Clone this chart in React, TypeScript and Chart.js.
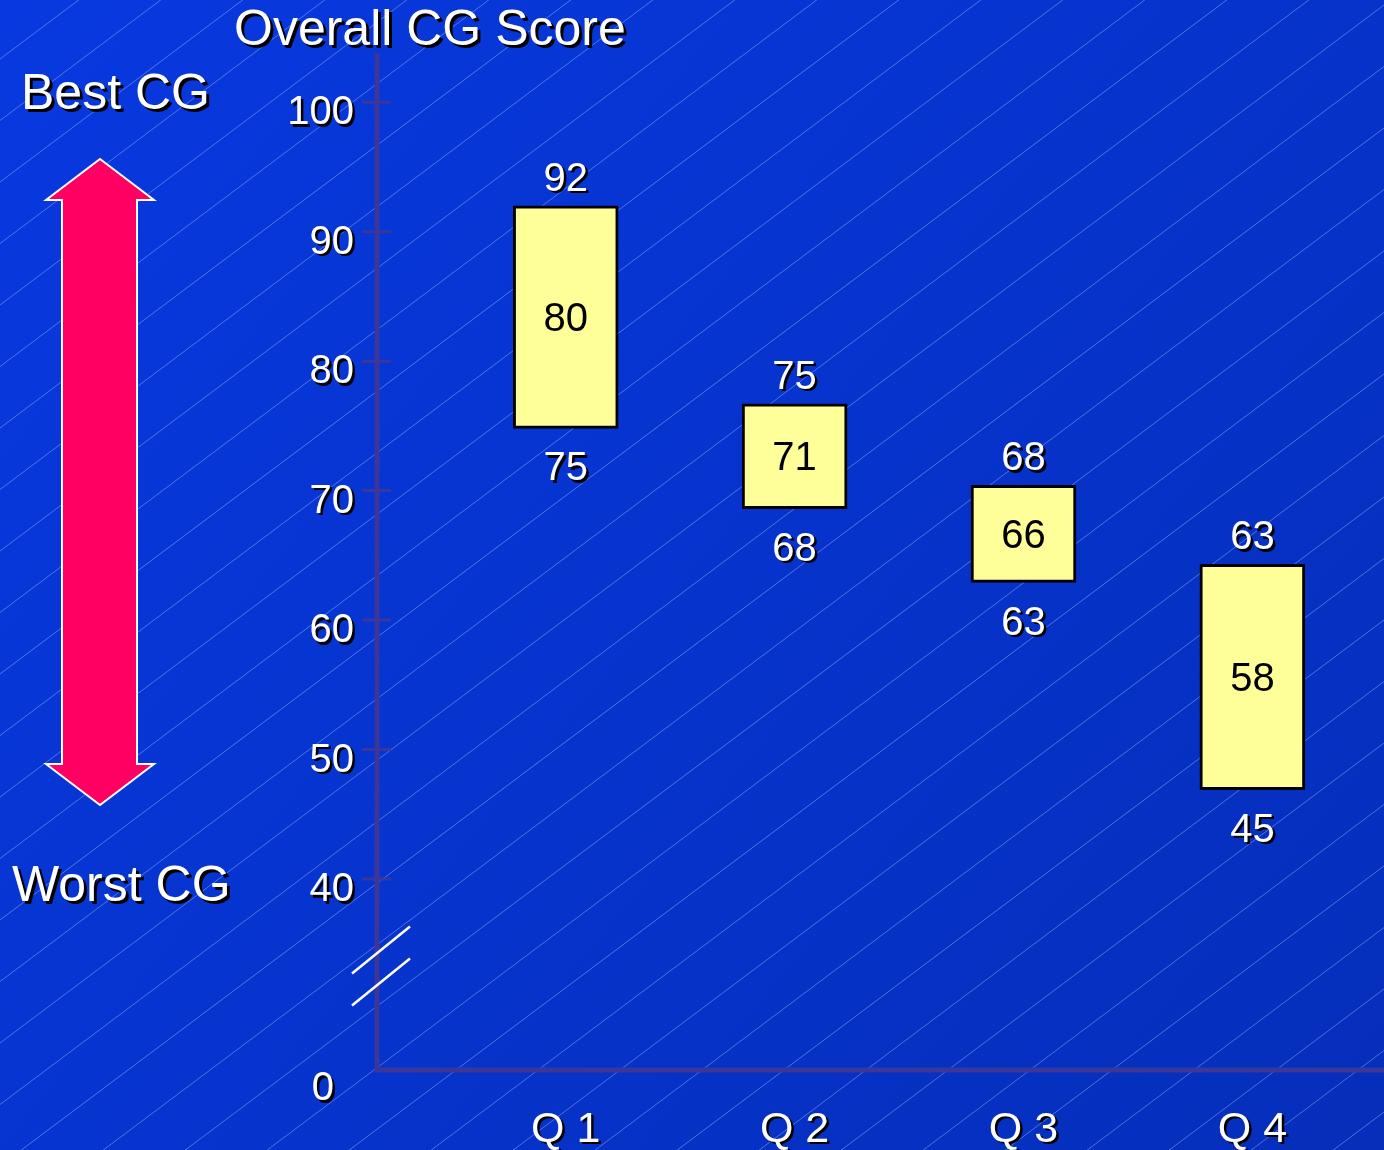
import React, { useEffect, useRef } from 'react';
import { Chart, registerables } from 'chart.js';

Chart.register(...registerables);

// ---- data ----
const categories = ['Q 1', 'Q 2', 'Q 3', 'Q 4'];
const barLow = [74.8, 68.6, 62.9, 46.9];
const barHigh = [92, 76.7, 70.4, 64.3];
const highLabels = ['92', '75', '68', '63'];
const midLabels = ['80', '71', '66', '58'];
const lowLabels = ['75', '68', '63', '45'];
const yTickValues = [40, 50, 60, 70, 80, 90, 100];
const yBreakLabel = '0';
const yBreakTick = 24.6;
const yMin = 25.25;
const yMax = 103.8;
const xMin = 0.1755;
const xMax = 4.575;
const titleText = 'Overall CG Score';
const bestText = 'Best CG';
const worstText = 'Worst CG';

const FONT = '"Liberation Sans", Arial, Helvetica, sans-serif';
const AXIS_COLOR = '#3b3699';

function setShadow(ctx: CanvasRenderingContext2D, off: number) {
  if (off > 0) {
    ctx.shadowColor = '#000000';
    ctx.shadowOffsetX = off;
    ctx.shadowOffsetY = off;
    ctx.shadowBlur = 0;
  } else {
    ctx.shadowColor = 'rgba(0,0,0,0)';
    ctx.shadowOffsetX = 0;
    ctx.shadowOffsetY = 0;
    ctx.shadowBlur = 0;
  }
}

const decorPlugin = {
  id: 'decor',
  beforeDraw(chart: any) {
    const { ctx, width, height } = chart;
    ctx.save();
    const g = ctx.createLinearGradient(0, 0, width, height);
    g.addColorStop(0, '#0839e0');
    g.addColorStop(1, '#052eba');
    ctx.fillStyle = g;
    ctx.fillRect(0, 0, width, height);
    // diagonal pinstripes
    ctx.strokeStyle = 'rgba(180,200,255,0.42)';
    ctx.lineWidth = 1;
    ctx.beginPath();
    const slope = 0.75;
    const step = 61.5;
    let c = 1842.5;
    while (c > 0) c -= step;
    for (; c < height + slope * width + step; c += step) {
      ctx.moveTo(0, c);
      ctx.lineTo(width, c - slope * width);
    }
    ctx.stroke();
    ctx.restore();
    // shadow for the scale tick labels drawn next
    setShadow(ctx, 2.5);
  },
  beforeDatasetsDraw(chart: any) {
    const { ctx, chartArea, scales } = chart;
    setShadow(ctx, 0);
    ctx.save();
    const left = chartArea.left;
    const bottom = chartArea.bottom;
    // axes
    ctx.strokeStyle = AXIS_COLOR;
    ctx.lineWidth = 5;
    ctx.beginPath();
    ctx.moveTo(left, chartArea.top);
    ctx.lineTo(left, bottom + 2.5);
    ctx.moveTo(left - 2.5, bottom);
    ctx.lineTo(chartArea.right, bottom);
    ctx.stroke();
    // tick marks
    ctx.lineWidth = 3;
    ctx.beginPath();
    yTickValues.forEach((v) => {
      const y = scales.y.getPixelForValue(v);
      ctx.moveTo(left - 15, y);
      ctx.lineTo(left + 14, y);
    });
    ctx.stroke();
    // axis break marks
    const y40 = scales.y.getPixelForValue(yTickValues[0]);
    const cy = (y40 + bottom) / 2 - 8.5;
    const cx = left + 4;
    ctx.strokeStyle = '#ffffff';
    ctx.lineWidth = 2.5;
    ctx.beginPath();
    [-16, 16].forEach((o) => {
      ctx.moveTo(cx - 29, cy + o + 23.5);
      ctx.lineTo(cx + 29, cy + o - 23.5);
    });
    ctx.stroke();
    // double-headed arrow
    ctx.beginPath();
    ctx.moveTo(100, 159);
    ctx.lineTo(154, 200);
    ctx.lineTo(137, 200);
    ctx.lineTo(137, 764);
    ctx.lineTo(154, 764);
    ctx.lineTo(100, 805);
    ctx.lineTo(46, 764);
    ctx.lineTo(62, 764);
    ctx.lineTo(62, 200);
    ctx.lineTo(46, 200);
    ctx.closePath();
    ctx.fillStyle = '#ff0062';
    ctx.fill();
    ctx.strokeStyle = '#ffffff';
    ctx.lineWidth = 2;
    ctx.stroke();
    ctx.restore();
  },
  afterDatasetsDraw(chart: any) {
    const { ctx } = chart;
    const meta = chart.getDatasetMeta(0);
    ctx.save();
    ctx.textAlign = 'center';
    ctx.textBaseline = 'middle';
    ctx.font = `40px ${FONT}`;
    meta.data.forEach((el: any, i: number) => {
      const { x, y, base } = el.getProps(['x', 'y', 'base'], true);
      const top = Math.min(y, base);
      const bot = Math.max(y, base);
      setShadow(ctx, 2.5);
      ctx.fillStyle = '#ffffff';
      ctx.fillText(highLabels[i], x, top - 26);
      ctx.fillText(lowLabels[i], x, bot + 41);
      setShadow(ctx, 0);
      ctx.fillStyle = '#000000';
      ctx.fillText(midLabels[i], x, (top + bot) / 2 + 3);
    });
    setShadow(ctx, 3);
    ctx.fillStyle = '#ffffff';
    ctx.textAlign = 'left';
    ctx.font = `50px ${FONT}`;
    ctx.fillText(titleText, 234, 31);
    ctx.fillText(bestText, 21, 95);
    ctx.fillText(worstText, 12, 887);
    setShadow(ctx, 0);
    ctx.restore();
  },
};

export default function App() {
  const canvasRef = useRef<HTMLCanvasElement | null>(null);

  useEffect(() => {
    document.body.style.margin = '0';
    const canvas = canvasRef.current;
    if (!canvas) return;
    const chart = new Chart(canvas, {
      type: 'bar',
      data: {
        datasets: [
          {
            data: categories.map((_, i) => ({ x: i + 1, y: [barLow[i], barHigh[i]] })) as any,
            backgroundColor: '#ffff99',
            borderColor: '#000000',
            borderWidth: 3,
            borderSkipped: false,
            barThickness: 105,
          },
        ],
      },
      options: {
        responsive: false,
        animation: false,
        devicePixelRatio: 1,
        layout: { padding: { top: 53, right: 0, left: 0, bottom: 0 } },
        plugins: {
          legend: { display: false },
          tooltip: { enabled: false },
          title: { display: false },
        },
        scales: {
          x: {
            type: 'linear',
            min: xMin,
            max: xMax,
            offset: false,
            grid: { display: false, drawTicks: false },
            border: { display: false },
            afterBuildTicks: (s: any) => {
              s.ticks = categories.map((_, i) => ({ value: i + 1 }));
            },
            afterFit: (s: any) => {
              s.height = 80;
            },
            ticks: {
              color: '#ffffff',
              font: { family: FONT, size: 43 },
              padding: 34,
              autoSkip: false,
              maxRotation: 0,
              minRotation: 0,
              callback: (v: any) => categories[Math.round(Number(v)) - 1] ?? '',
            },
          },
          y: {
            type: 'linear',
            min: yMin,
            max: yMax,
            grid: { display: false, drawTicks: false },
            border: { display: false },
            afterBuildTicks: (s: any) => {
              s.ticks = [yBreakTick, ...yTickValues].map((v) => ({ value: v }));
            },
            afterFit: (s: any) => {
              s.width = 377;
            },
            ticks: {
              color: '#ffffff',
              font: { family: FONT, size: 40 },
              padding: 23,
              labelOffset: 11,
              autoSkip: false,
              callback: (v: any) => (Number(v) < yTickValues[0] ? yBreakLabel + '\u2002' : String(v)),
            },
          },
        },
      } as any,
      plugins: [decorPlugin],
    });
    return () => chart.destroy();
  }, []);

  return (
    <div style={{ position: 'absolute', left: 0, top: 0, width: 1384, height: 1150 }}>
      <canvas ref={canvasRef} width={1384} height={1150} style={{ display: 'block', width: 1384, height: 1150 }} />
    </div>
  );
}
